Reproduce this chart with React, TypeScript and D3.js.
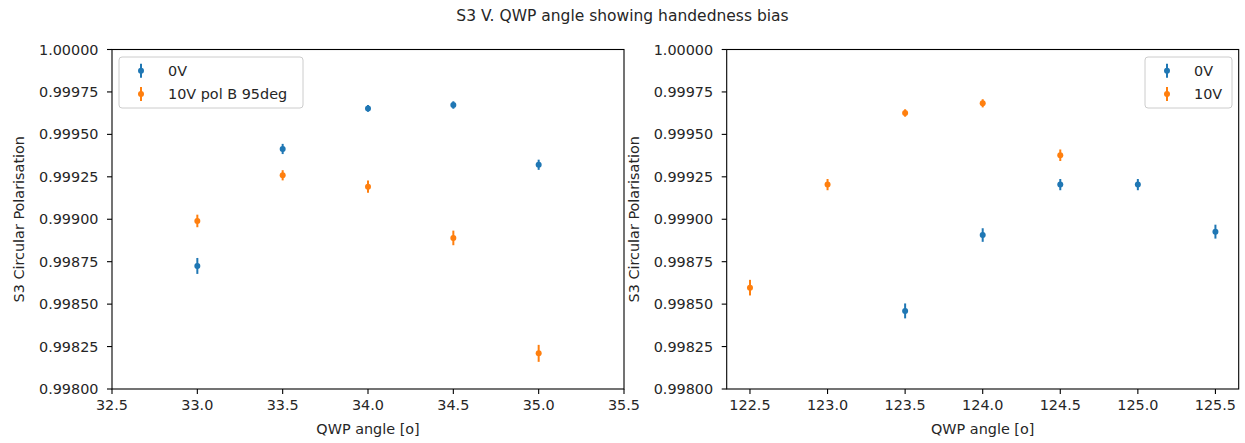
import * as d3 from 'd3';

// values
const leftAngles = [33.0, 33.5, 34.0, 34.5, 35.0];
const left0V = [0.998725, 0.999414, 0.999653, 0.999673, 0.999321];
const left0VErr = [0.000047, 0.00003, 0.00002, 0.000022, 0.00003];
const left10V = [0.99899, 0.999259, 0.999192, 0.99889, 0.99821];
const left10VErr = [0.000037, 0.00003, 0.000036, 0.000043, 0.00005];

const right0VAngles = [123.5, 124.0, 124.5, 125.0, 125.5];
const right0V = [0.99846, 0.998907, 0.999204, 0.999204, 0.998927];
const right0VErr = [0.000044, 0.00004, 0.000033, 0.000033, 0.000041];
const right10VAngles = [122.5, 123.0, 123.5, 124.0, 124.5];
const right10V = [0.998597, 0.999204, 0.999626, 0.999683, 0.999377];
const right10VErr = [0.000046, 0.000033, 0.000022, 0.000024, 0.000034];

const leftXTicks = [32.5, 33.0, 33.5, 34.0, 34.5, 35.0, 35.5];
const rightXTicks = [122.5, 123.0, 123.5, 124.0, 124.5, 125.0, 125.5];
const yTicks = [0.998, 0.99825, 0.9985, 0.99875, 0.999, 0.99925, 0.9995, 0.99975, 1.0];

const title = 'S3 V. QWP angle showing handedness bias';
const xLabel = 'QWP angle [o]';
const yLabel = 'S3 Circular Polarisation';

const BLUE = '#1f77b4';
const ORANGE = '#ff7f0e';
const FONT = 'DejaVu Sans, sans-serif';
const FS = 14.4;

interface Series {
    name: string;
    color: string;
    x: number[];
    y: number[];
    err: number[];
}

interface PanelProps {
    left: number;
    xDomain: [number, number];
    xTicks: number[];
    series: Series[];
    legendLeft: number;
    legendWidth: number;
}

const top = 49.5;
const bottom = 389;
const panelWidth = 512;

const Panel = ({ left, xDomain, xTicks, series, legendLeft, legendWidth }: PanelProps) => {
    const x = d3.scaleLinear().domain(xDomain).range([left, left + panelWidth]);
    const y = d3.scaleLinear().domain([0.998, 1.0]).range([bottom, top]);
    const fx = d3.format('.1f');
    const fy = d3.format('.5f');

    return (
        <g>
            {/* error bars + points */}
            {series.map(s => (
                <g key={s.name}>
                    {s.x.map((v, i) => (
                        <line key={'e' + i} x1={x(v)} x2={x(v)}
                            y1={y(s.y[i] - s.err[i])} y2={y(s.y[i] + s.err[i])}
                            stroke={s.color} strokeWidth={2} />
                    ))}
                    {s.x.map((v, i) => (
                        <circle key={'p' + i} cx={x(v)} cy={y(s.y[i])} r={3} fill={s.color} />
                    ))}
                </g>
            ))}

            {/* frame */}
            <rect x={left} y={top} width={panelWidth} height={bottom - top}
                fill="none" stroke="#000" strokeWidth={1.1} />

            {/* x axis */}
            {xTicks.map(t => (
                <g key={t}>
                    <line x1={x(t)} x2={x(t)} y1={bottom} y2={bottom + 5} stroke="#000" strokeWidth={1.1} />
                    <text x={x(t)} y={410} textAnchor="middle" fontSize={FS} fontFamily={FONT} fill="#262626">{fx(t)}</text>
                </g>
            ))}
            <text x={left + panelWidth / 2} y={434} textAnchor="middle" fontSize={FS} fontFamily={FONT} fill="#262626">{xLabel}</text>

            {/* y axis */}
            {yTicks.map(t => (
                <g key={t}>
                    <line x1={left - 5} x2={left} y1={y(t)} y2={y(t)} stroke="#000" strokeWidth={1.1} />
                    <text x={left - 13.5} y={y(t) + 5} textAnchor="end" fontSize={FS} fontFamily={FONT} fill="#262626">{fy(t)}</text>
                </g>
            ))}
            <text transform={`translate(${left - 93},${(top + bottom) / 2}) rotate(-90)`} dy="0.35em"
                textAnchor="middle" fontSize={FS} fontFamily={FONT} fill="#262626">{yLabel}</text>

            {/* legend */}
            <rect x={legendLeft} y={57} width={legendWidth} height={51} rx={3}
                fill="#fff" fillOpacity={0.8} stroke="#cccccc" strokeWidth={1} />
            {series.map((s, i) => {
                const cy = 70.7 + i * 23.3;
                return (
                    <g key={s.name}>
                        <line x1={legendLeft + 22} x2={legendLeft + 22} y1={cy - 7} y2={cy + 7} stroke={s.color} strokeWidth={2} />
                        <circle cx={legendLeft + 22} cy={cy} r={3} fill={s.color} />
                        <text x={legendLeft + 49} y={cy + 5} fontSize={FS} fontFamily={FONT} fill="#262626">{s.name}</text>
                    </g>
                );
            })}
        </g>
    );
};

export default function App() {
    const leftSeries: Series[] = [
        { name: '0V', color: BLUE, x: leftAngles, y: left0V, err: left0VErr },
        { name: '10V pol B 95deg', color: ORANGE, x: leftAngles, y: left10V, err: left10VErr },
    ];
    const rightSeries: Series[] = [
        { name: '0V', color: BLUE, x: right0VAngles, y: right0V, err: right0VErr },
        { name: '10V', color: ORANGE, x: right10VAngles, y: right10V, err: right10VErr },
    ];

    return (
        <svg width={1245} height={443} style={{ position: 'absolute', left: 0, top: 0, background: '#fff' }}>
            <rect width={1245} height={443} fill="#fff" />
            <text x={622.5} y={20.5} textAnchor="middle" fontSize={15.5} fontFamily={FONT} fill="#262626">{title}</text>
            <Panel left={112} xDomain={[32.5, 35.5]} xTicks={leftXTicks} series={leftSeries}
                legendLeft={119} legendWidth={184} />
            <Panel left={726.7} xDomain={[122.35, 125.65]} xTicks={rightXTicks} series={rightSeries}
                legendLeft={1145} legendWidth={87} />
        </svg>
    );
}
